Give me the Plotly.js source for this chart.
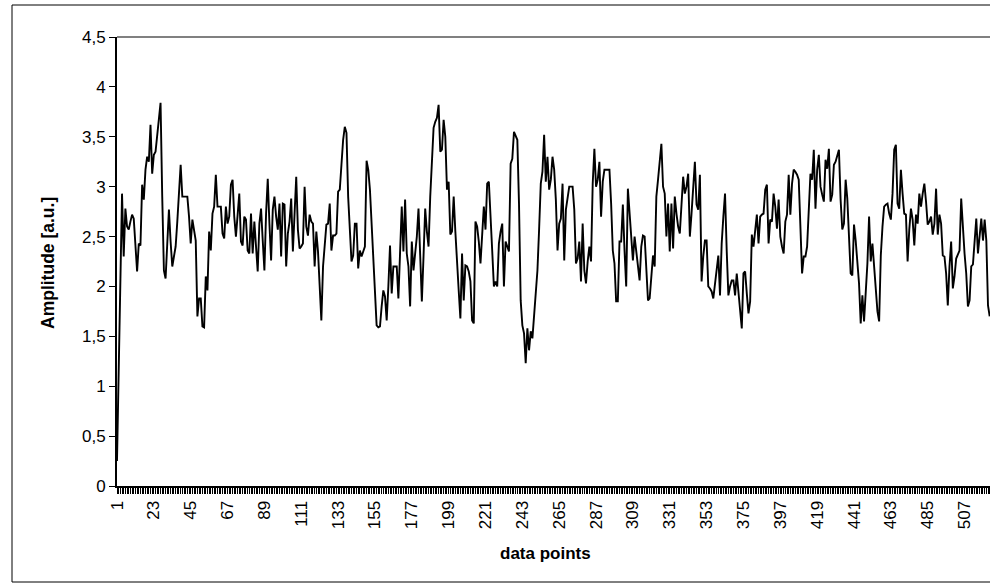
<!DOCTYPE html>
<html>
<head>
<meta charset="utf-8">
<script src="https://cdn.plot.ly/plotly-3.0.1.min.js"></script>
<style>
html,body{margin:0;padding:0;background:#fff;overflow:hidden;}
#chart{width:990px;height:587px;}
</style>
</head>
<body>
<div id="chart"></div>
<script>
// Amplitude values, one per data point (1..522)
const amplitude = [
0.25,1.2,2.1,2.93,2.30,2.78,2.60,2.57,2.65,2.72,
2.68,2.40,2.15,2.43,2.41,3.02,2.87,3.17,3.30,3.25,
3.62,3.13,3.32,3.35,3.50,3.68,3.84,2.90,2.16,2.08,
2.40,2.77,2.45,2.20,2.30,2.40,2.65,2.95,3.22,2.90,
2.90,2.90,2.90,2.70,2.43,2.67,2.55,2.46,1.70,1.88,
1.88,1.60,1.59,2.10,1.96,2.55,2.36,2.73,2.80,3.12,
2.80,2.80,2.80,2.53,2.48,2.80,2.63,2.70,3.02,3.07,
2.70,2.50,2.77,2.93,2.45,2.41,2.70,2.67,2.36,2.33,
2.73,2.33,2.65,2.40,2.15,2.63,2.78,2.46,2.16,2.73,
3.08,2.63,2.26,2.77,2.90,2.70,2.57,2.83,2.30,2.83,
2.82,2.20,2.53,2.65,2.88,2.35,2.70,3.10,2.57,2.38,
2.40,2.43,3.00,2.60,2.51,2.72,2.65,2.63,2.20,2.55,
2.35,2.00,1.66,2.20,2.40,2.62,2.63,2.83,2.36,2.51,
2.51,2.53,2.95,2.97,3.22,3.47,3.60,3.54,2.90,2.53,
2.25,2.31,2.63,2.63,2.18,2.36,2.30,2.35,2.40,3.26,
3.17,2.97,2.60,2.20,1.90,1.61,1.59,1.60,1.80,1.96,
1.90,1.66,2.00,2.41,1.93,2.20,2.20,2.20,1.88,2.30,
2.80,2.35,2.87,2.33,2.20,1.80,2.45,2.16,2.35,2.50,
2.78,2.30,1.85,2.30,2.78,2.55,2.40,2.90,3.30,3.59,
3.65,3.69,3.82,3.35,3.37,3.67,3.50,2.97,3.05,2.52,
2.55,2.90,2.55,2.30,1.96,1.68,2.33,1.86,2.21,2.20,
2.15,2.05,1.66,1.63,2.65,2.60,2.45,2.23,2.57,2.80,
2.57,3.03,3.05,2.63,2.36,2.00,2.05,2.00,2.43,2.55,
2.63,2.00,2.45,2.40,2.35,3.23,3.28,3.55,3.50,3.47,
2.83,1.86,1.61,1.53,1.23,1.58,1.36,1.55,1.48,1.70,
1.90,2.16,2.57,3.03,3.15,3.52,3.05,3.30,2.97,3.07,
3.30,3.17,2.87,2.36,2.63,2.68,3.03,2.26,2.77,2.90,
3.00,3.00,3.00,2.77,2.23,2.28,2.45,2.05,2.63,2.16,
2.03,2.25,2.40,2.25,3.03,3.38,3.00,3.07,3.25,2.70,
3.05,3.17,3.17,3.17,3.17,2.83,2.36,2.23,1.85,1.85,
2.45,2.45,2.82,2.36,2.00,2.98,2.75,2.57,2.26,2.50,
2.36,2.20,2.06,2.40,2.51,2.50,2.20,1.86,1.88,2.10,
2.31,2.20,2.90,3.07,3.25,3.43,3.00,2.93,2.50,2.83,
2.35,2.83,2.38,2.90,2.73,2.60,2.53,2.80,3.10,2.93,
3.00,3.13,2.50,2.73,3.00,3.25,2.82,2.77,3.12,2.05,
2.30,2.46,2.46,2.00,1.98,1.95,1.88,2.03,2.20,2.31,
1.91,2.43,2.70,2.93,2.36,1.91,2.00,2.06,2.06,1.91,
2.13,1.93,1.75,1.58,2.13,2.15,1.93,1.73,1.85,2.52,
2.40,2.55,2.72,2.43,2.70,2.72,2.73,2.97,3.02,2.43,
2.67,2.65,2.93,2.80,2.58,2.87,2.50,2.40,2.33,2.65,
2.72,3.12,2.72,3.03,3.17,3.15,3.12,3.07,2.52,2.13,
2.30,2.30,2.40,2.72,3.13,3.07,3.37,2.78,3.17,3.32,
3.00,2.92,2.85,3.27,3.18,3.38,2.85,2.92,3.22,3.25,
3.30,3.37,2.87,2.57,2.63,3.07,2.88,2.40,2.13,2.11,
2.62,2.46,2.25,2.03,1.63,1.91,1.65,1.95,2.23,2.70,
2.25,2.43,2.20,2.00,1.75,1.65,2.31,2.60,2.80,2.82,
2.83,2.73,2.67,2.93,3.37,3.42,2.83,2.78,3.17,2.93,
2.73,2.72,2.25,2.57,2.78,2.67,2.41,2.72,2.63,2.93,
2.80,2.93,3.03,2.85,2.62,2.65,2.70,2.52,2.63,2.98,
2.52,2.72,2.63,2.31,2.30,2.13,1.81,2.20,2.45,1.98,
2.10,2.28,2.33,2.36,2.88,2.57,2.33,2.13,1.80,1.86,
2.20,2.22,2.43,2.68,2.33,2.50,2.68,2.46,2.67,2.46,
1.81,1.70
];
// Category numbers (data point index)
const dataPoints = amplitude.map((v, i) => i + 1);

// X tick labels (every 22nd category)
const xTickLabels = ['1','23','45','67','89','111','133','155','177','199','221','243','265','287','309','331','353','375','397','419','441','463','485','507'];
const xTickVals = xTickLabels.map(Number);

// Y tick labels
const yTickVals = [0,0.5,1,1.5,2,2.5,3,3.5,4,4.5];
const yTickText = ['0','0,5','1','1,5','2','2,5','3','3,5','4','4,5'];

const FONT = 'Liberation Sans, Arial, sans-serif';
const W = 990, H = 587, L = 117, T = 37, B = 101;
const plotW = W - L, plotH = H - T - B;
const pxPerPoint = 1.675;
const xMax = 1 + plotW / pxPerPoint;

function px2paperX(px){ return (px - L) / plotW; }
function px2paperY(py){ return (H - B - py) / plotH; }

const trace = {
  x: dataPoints,
  y: amplitude,
  type: 'scatter',
  mode: 'lines',
  line: {color: '#000000', width: 1.9},
  hoverinfo: 'skip',
  cliponaxis: true
};

const layout = {
  width: W, height: H,
  margin: {l: L, r: 0, t: T, b: B, pad: 0},
  paper_bgcolor: '#ffffff',
  plot_bgcolor: '#ffffff',
  showlegend: false,
  font: {family: FONT, color: '#000', size: 13},
  xaxis: {
    range: [1, xMax],
    showgrid: false, zeroline: false,
    showline: true, linecolor: '#000', linewidth: 2,
    ticks: 'outside', ticklen: 6, tickwidth: 1, tickcolor: '#000',
    tickmode: 'array', tickvals: xTickVals, ticktext: xTickLabels,
    tickangle: -90,
    tickfont: {family: FONT, size: 17, color: '#000'},
    minor: {tickmode: 'linear', tick0: 1, dtick: 1, ticks: 'outside', ticklen: 6, tickwidth: 1, tickcolor: '#000', showgrid: false},
    fixedrange: true
  },
  yaxis: {
    range: [0, 4.5],
    showgrid: false, zeroline: false,
    showline: true, linecolor: '#000', linewidth: 2,
    ticks: 'outside', ticklen: 6, tickwidth: 1, tickcolor: '#000',
    tickmode: 'array', tickvals: yTickVals, ticktext: yTickText,
    tickfont: {family: FONT, size: 17, color: '#000'},
    automargin: false,
    fixedrange: true
  },
  annotations: [{
    text: '<b>data points</b>',
    xref: 'paper', yref: 'paper',
    x: px2paperX(545), y: px2paperY(553),
    xanchor: 'center', yanchor: 'middle',
    showarrow: false,
    font: {family: FONT, size: 17, color: '#000'}
  }, {
    text: '<b>Amplitude [a.u.]</b>',
    xref: 'paper', yref: 'paper',
    x: px2paperX(48), y: px2paperY(263),
    xanchor: 'center', yanchor: 'middle',
    textangle: -90,
    showarrow: false,
    font: {family: FONT, size: 17.5, color: '#000'}
  }],
  shapes: [
    {type: 'line', xref: 'paper', yref: 'paper', x0: 0, x1: 1.05, y0: 1, y1: 1, line: {color: '#808080', width: 2}},
    {type: 'rect', xref: 'paper', yref: 'paper', layer: 'below',
     x0: px2paperX(12), x1: px2paperX(1100), y0: px2paperY(582), y1: px2paperY(5),
     line: {color: '#000', width: 1}, fillcolor: 'rgba(0,0,0,0)'}
  ]
};

Plotly.newPlot('chart', [trace], layout, {displayModeBar: false, staticPlot: true});
</script>
</body>
</html>
